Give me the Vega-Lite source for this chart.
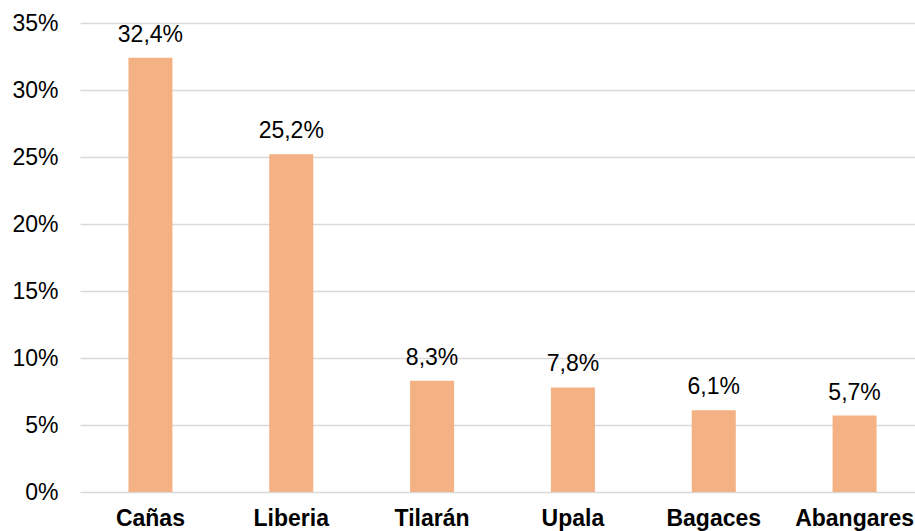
{
  "$schema": "https://vega.github.io/schema/vega-lite/v6.json",
  "width": 845,
  "height": 469,
  "autosize": {"type": "none"},
  "padding": {"left": 80, "top": 23, "right": 0, "bottom": 39},
  "background": "white",
  "config": {
    "locale": {"number": {"decimal": ",", "thousands": ".", "grouping": [3], "currency": ["", " €"]}},
    "view": {"stroke": null},
    "font": "Liberation Sans"
  },
  "data": {
    "values": [
      {"canton": "Cañas", "value": 0.324},
      {"canton": "Liberia", "value": 0.252},
      {"canton": "Tilarán", "value": 0.083},
      {"canton": "Upala", "value": 0.078},
      {"canton": "Bagaces", "value": 0.061},
      {"canton": "Abangares", "value": 0.057}
    ]
  },
  "encoding": {
    "x": {
      "field": "canton", "type": "nominal", "sort": null,
      "scale": {"paddingInner": 0.6875, "paddingOuter": 0.34375},
      "axis": {"title": null, "labelAngle": 0, "domain": false, "ticks": false, "labelFont": "Liberation Sans", "labelFontSize": 23, "labelFontWeight": "bold", "labelColor": "#000000", "labelPadding": 15}
    },
    "y": {
      "field": "value", "type": "quantitative",
      "scale": {"domain": [0, 0.35], "nice": false},
      "axis": {"title": null, "format": ".0%", "values": [0, 0.05, 0.1, 0.15, 0.2, 0.25, 0.3, 0.35], "domain": false, "ticks": false, "labelFont": "Liberation Sans", "labelFontSize": 23, "labelColor": "#000000", "labelPadding": 22, "gridColor": "#D9D9D9", "gridWidth": 1.5}
    }
  },
  "layer": [
    {"mark": {"type": "bar", "color": "#F4B183"}},
    {"mark": {"type": "text", "baseline": "bottom", "dy": -11, "font": "Liberation Sans", "fontSize": 23, "color": "#000000"},
     "encoding": {"text": {"field": "value", "type": "quantitative", "format": ".1%"}}}
  ]
}
